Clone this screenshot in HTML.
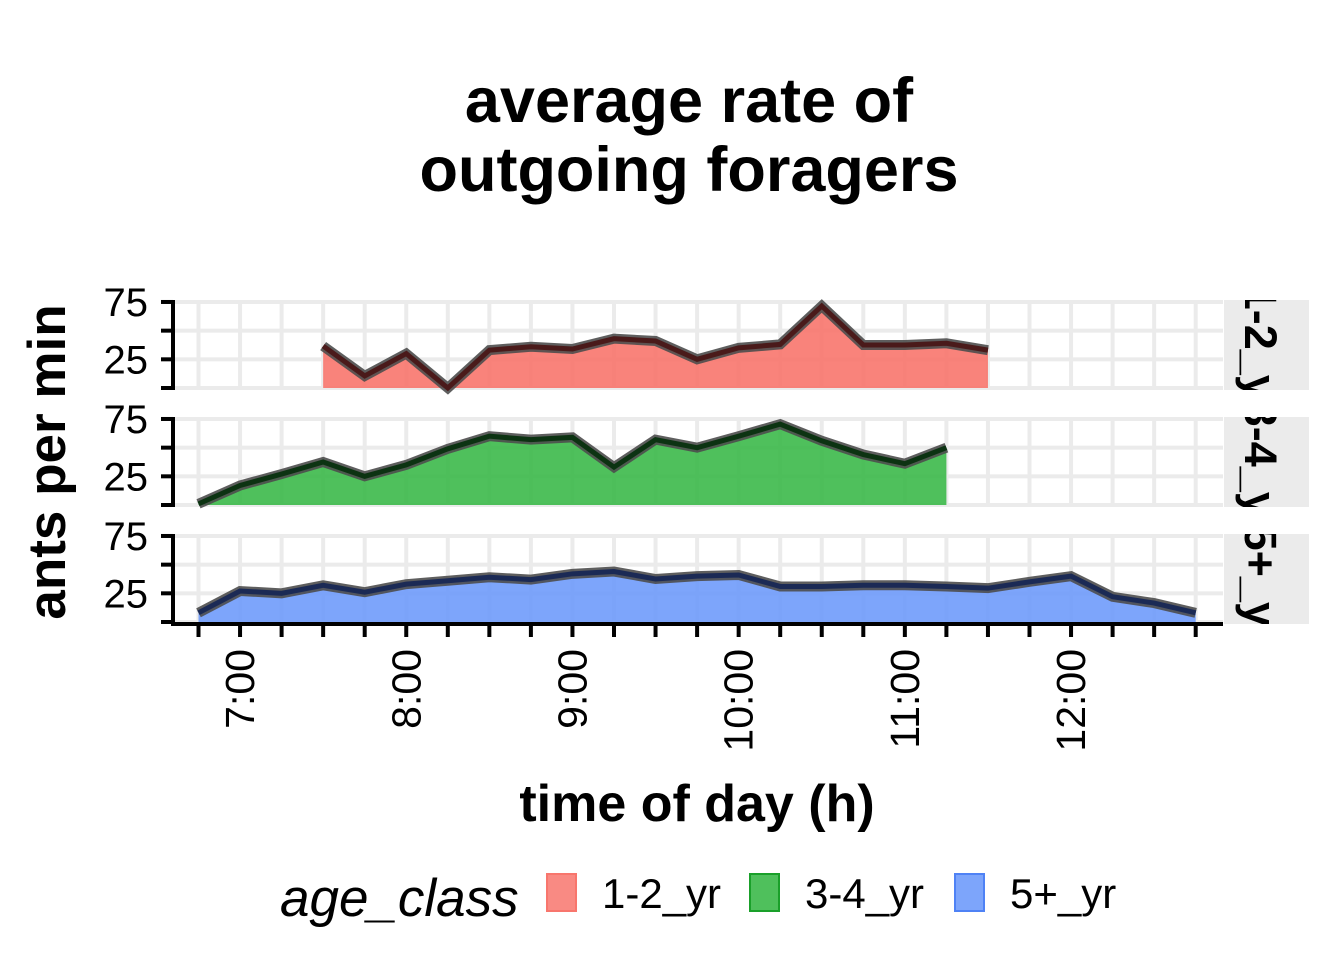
<!DOCTYPE html>
<html><head><meta charset="utf-8">
<style>
html,body{margin:0;padding:0;background:#fff;}
svg{display:block;font-family:"Liberation Sans",Arial,sans-serif;}
</style></head>
<body>
<svg id="chart" width="1344" height="960" viewBox="0 0 1344 960" xmlns="http://www.w3.org/2000/svg">
<g font-weight="bold" font-size="63" text-anchor="middle" fill="#000">
<text x="689" y="122">average rate of</text>
<text x="689" y="191">outgoing foragers</text>
</g>
<g id="panels"></g>
<g id="xaxis"></g>
<text x="697" y="821" font-size="52" font-weight="bold" text-anchor="middle">time of day (h)</text>
<text transform="translate(65,462) rotate(-90)" font-size="53" font-weight="bold" text-anchor="middle">ants per min</text>
<g>
<text x="280" y="916" font-size="53" font-style="italic">age_class</text>
<rect x="547" y="874" width="29" height="37" fill="#f8766d" fill-opacity="0.85" stroke="#f8766d" stroke-width="2"/>
<text x="602" y="908" font-size="42">1-2_yr</text>
<rect x="750" y="874" width="29" height="37" fill="#3cb94a" fill-opacity="0.9" stroke="#1aa02a" stroke-width="2"/>
<text x="805" y="908" font-size="42">3-4_yr</text>
<rect x="955" y="874" width="29" height="37" fill="#6f9bfb" fill-opacity="0.9" stroke="#4f82f5" stroke-width="2"/>
<text x="1010" y="908" font-size="42">5+_yr</text>
</g>
</svg>
<script>
// time index: 0 = 6:45, step 15 min
const timeSlots = ["6:45","7:00","7:15","7:30","7:45","8:00","8:15","8:30","8:45","9:00","9:15","9:30","9:45","10:00","10:15","10:30","10:45","11:00","11:15","11:30","11:45","12:00","12:15","12:30","12:45"];
const tickLabels = ["7:00","8:00","9:00","10:00","11:00","12:00"];
const tickHours = [7,8,9,10,11,12];
const yTickLabels = [25,75];
const yMinorTicks = [0,50];
const panelNames = ["1-2_yr","3-4_yr","5+_yr"];
const startIdx = [3,0,0];
const series12 = [36.6,10.5,30,0,33,36,34,43,41,25,35,38,71.5,37.5,37.5,39,33];
const series34 = [1,17,27,37.5,25,35,49,60,57,59,33,57,50,60,70.5,56,44,36,50];
const series5 = [8,27,25,32,26,33,36,39,37,42,44,37.5,40,41,31,31,32,32,31,29.5,35,40,22,16.5,8];
const allSeries = [series12,series34,series5];
const fills = ["#f8766d","#3cb94a","#6f9bfb"];
const cores = ["#4a1a1a","#0c3312","#1b2a55"];

const NS="http://www.w3.org/2000/svg";
const X0=198.5, DX=41.55, PL=173, PR=1223;
const panelTops=[300,417,534], zeroY=[388,505,622], PY=1.147;
function xs(i){return X0+i*DX;}
function xh(h){return X0+(h-6.75)*4*DX;}
function el(tag,attrs,parent){const e=document.createElementNS(NS,tag);for(const k in attrs)e.setAttribute(k,attrs[k]);parent.appendChild(e);return e;}
const panels=document.getElementById('panels');
for(let p=0;p<3;p++){
  const g=el('g',{},panels);
  
  
  const top=panelTops[p], z=zeroY[p], bot=z+2;
  const ys=v=>z-v*PY;
  for(let i=0;i<timeSlots.length;i++){
    const l=el('line',{x1:xs(i),x2:xs(i),y1:top,y2:bot,stroke:'#ebebeb','stroke-width':4},g);
    
    
  }
  [0,25,50,75].forEach(v=>{
    const l=el('line',{x1:PL,x2:PR,y1:ys(v),y2:ys(v),stroke:'#ebebeb','stroke-width':4},g);
    
    
  });
  const data=allSeries[p], s=startIdx[p];
  let d='M'+xs(s)+','+z;
  data.forEach((v,k)=>{d+=' L'+xs(s+k)+','+ys(v);});
  d+=' L'+xs(s+data.length-1)+','+z+' Z';
  const a=el('path',{d:d,fill:fills[p],'fill-opacity':0.9},g);
  
  
  const pts=data.map((v,k)=>xs(s+k)+','+ys(v)).join(' ');
  const l1=el('polyline',{points:pts,fill:'none',stroke:'#4d4d4d','stroke-opacity':0.9,'stroke-width':10,'stroke-linejoin':'miter'},g);
  
  
  const l2=el('polyline',{points:pts,fill:'none',stroke:cores[p],'stroke-width':5},g);
  
  
  const ax=el('line',{x1:PL,x2:PL,y1:top,y2:bot,stroke:'#000','stroke-width':4},g);
  
  
  yTickLabels.concat(yMinorTicks).forEach(v=>{
    const t=el('line',{x1:PL-12,x2:PL,y1:ys(v),y2:ys(v),stroke:'#000','stroke-width':4},g);
    
    
  });
  yTickLabels.forEach(v=>{
    const t=el('text',{x:PL-25,y:ys(v)+14,'font-size':40,'text-anchor':'end'},g);
    t.textContent=v;
    
    
  });
  const clipId='clip'+p;
  const cp=el('clipPath',{id:clipId},g);
  el('rect',{x:1224,y:top,width:85,height:bot-top},cp);
  const sr=el('rect',{x:1224,y:top,width:85,height:bot-top,fill:'#ebebeb'},g);
  
  
  const cg=el('g',{'clip-path':'url(#'+clipId+')'},g);
  const st=el('text',{transform:'translate(1245,'+((top+bot)/2+6)+') rotate(90)','font-size':45,'font-weight':'bold','text-anchor':'middle'},cg);
  st.textContent=panelNames[p];
  
  
}
const xa=document.getElementById('xaxis');
const xl=el('line',{x1:PL-2,x2:PR,y1:624,y2:624,stroke:'#000','stroke-width':4},xa);


for(let i=0;i<timeSlots.length;i++){
  const t=el('line',{x1:xs(i),x2:xs(i),y1:624,y2:637,stroke:'#000','stroke-width':4},xa);
  
  
}
tickLabels.forEach((lab,k)=>{
  const t=el('text',{transform:'translate('+(xh(tickHours[k])+14)+',649) rotate(-90)','font-size':41,'text-anchor':'end'},xa);
  t.textContent=lab;
  
  
});
</script>
</body></html>
